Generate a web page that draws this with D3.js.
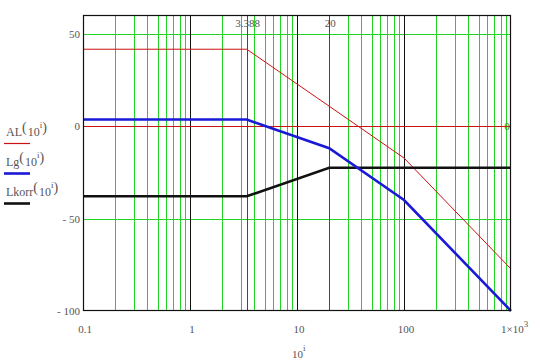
<!DOCTYPE html>
<html><head><meta charset="utf-8">
<script src="https://cdn.jsdelivr.net/npm/d3@7"></script>
<style>body{margin:0;background:#fff}svg{display:block}</style>
</head><body>
<svg id="c" width="541" height="362"></svg>
<script>
// ---- data ----
const freqs   = [0.1, 3.388, 20, 100, 1000];
const AL      = [41.5, 41.5, 10.7, -17.3, -77.3];
const Lg      = [3.5, 3.5, -12.0, -40.0, -100.0];
const Lkorr   = [-38.0, -38.0, -22.6, -22.6, -22.6];
const markersX = [3.388, 20];
const markersXLabels = ["3.388", "20"];
const markersY = [0];
const markersYLabels = ["0"];
const xTicks = [0.1, 1, 10, 100, 1000];
const xTickLabels = ["0.1", "1", "10", "100", "1×10"];
const yTicks = [50, 0, -50, -100];
const yTickLabels = ["50", "0", "- 50", "- 100"];
const yGrid = [50, 0, -50];
const seriesNames = ["AL", "Lg", "Lkorr"];

// ---- layout ----
const L = 83, R = 511, T = 15, B = 311;
const svg = d3.select("#c");
const x = d3.scaleLog().domain([0.1, 1000]).range([L, R]);
const y = d3.scaleLinear().domain([-100, 60]).range([B, T]);
const green = "#22d422", red = "#cc1111", blue = "#1a1ad6", black = "#111";
const font = "'Liberation Serif', 'DejaVu Serif', serif";
const txt = "#555";

// minor green grid (2..9 of each decade)
const minor = x.ticks().filter(v => !xTicks.some(t => Math.abs(Math.log10(v) - Math.log10(t)) < 1e-6));
const grid = svg.append("g").attr("shape-rendering", "crispEdges");
grid.append("g").selectAll("line").data(minor).join("line")
  .attr("x1", d => Math.round(x(d)) + 0.5).attr("x2", d => Math.round(x(d)) + 0.5)
  .attr("y1", T).attr("y2", B).attr("stroke", green).attr("stroke-width", 1);
grid.append("g").selectAll("line").data(yGrid).join("line")
  .attr("x1", L).attr("x2", R)
  .attr("y1", d => Math.round(y(d)) + 0.5).attr("y2", d => Math.round(y(d)) + 0.5)
  .attr("stroke", green).attr("stroke-width", 1);
// decade black lines
grid.append("g").selectAll("line").data(xTicks.slice(1, -1)).join("line")
  .attr("x1", d => Math.round(x(d)) + 0.5).attr("x2", d => Math.round(x(d)) + 0.5)
  .attr("y1", T).attr("y2", B).attr("stroke", black).attr("stroke-width", 1);

// markers
grid.append("g").selectAll("line").data(markersX).join("line")
  .attr("x1", d => Math.round(x(d)) + 0.5).attr("x2", d => Math.round(x(d)) + 0.5)
  .attr("y1", T).attr("y2", B).attr("stroke", red).attr("stroke-width", 1);
grid.append("g").selectAll("line").data(markersY).join("line")
  .attr("x1", L).attr("x2", R)
  .attr("y1", d => Math.round(y(d)) + 0.5).attr("y2", d => Math.round(y(d)) + 0.5)
  .attr("stroke", red).attr("stroke-width", 1);
svg.append("g").selectAll("text").data(markersX).join("text")
  .attr("x", d => x(d) + 1).attr("y", T + 12).attr("text-anchor", "middle")
  .attr("font-family", font).attr("font-size", 11).attr("fill", txt)
  .text((d, i) => markersXLabels[i]);
svg.append("g").selectAll("text").data(markersY).join("text")
  .attr("x", R - 4).attr("y", d => y(d) + 4).attr("text-anchor", "middle")
  .attr("font-family", font).attr("font-size", 11).attr("fill", "#3a7a3a")
  .text((d, i) => markersYLabels[i]);

// series
const line = d3.line().x(d => x(d[0])).y(d => y(d[1]));
const mk = arr => freqs.map((f, i) => [f, arr[i]]);
svg.append("path").attr("d", line(mk(AL))).attr("fill", "none").attr("stroke", red).attr("stroke-width", 1);
svg.append("path").attr("d", line(mk(Lkorr))).attr("fill", "none").attr("stroke", black).attr("stroke-width", 2.6);
svg.append("path").attr("d", line(mk(Lg))).attr("fill", "none").attr("stroke", blue).attr("stroke-width", 2.6);

// frame
svg.append("rect").attr("x", L + 0.5).attr("y", T + 0.5).attr("width", R - L - 1).attr("height", B - T - 1)
  .attr("fill", "none").attr("stroke", black).attr("stroke-width", 1.2);

// y tick labels
svg.append("g").selectAll("text").data(yTicks).join("text")
  .attr("x", L - 3).attr("y", d => y(d) + 4).attr("text-anchor", "end")
  .attr("font-family", font).attr("font-size", 11).attr("fill", txt)
  .text((d, i) => yTickLabels[i]);
// x tick labels
const xl = svg.append("g").selectAll("text").data(xTicks).join("text")
  .attr("x", (d, i) => i === xTicks.length - 1 ? x(d) - 10 : x(d) + 2)
  .attr("y", B + 22).attr("text-anchor", (d, i) => i === xTicks.length - 1 ? "start" : "middle")
  .attr("font-family", font).attr("font-size", 11).attr("fill", txt);
xl.append("tspan").text((d, i) => xTickLabels[i]);
xl.filter((d, i) => i === xTicks.length - 1).append("tspan")
  .attr("dy", -6).attr("font-size", 9).text("3");

// x axis title
const xt = svg.append("text").attr("x", 292).attr("y", 358)
  .attr("font-family", font).attr("font-size", 11).attr("fill", txt);
xt.append("tspan").text("10");
xt.append("tspan").attr("dy", -7).attr("font-size", 9).text("i");

// legend
const legColors = [red, blue, black];
const legY = [136, 166, 196];
const legWidths = [1.2, 2.6, 2.6];
seriesNames.forEach((n, i) => {
  const t = svg.append("text").attr("x", 6).attr("y", legY[i])
    .attr("font-family", font).attr("font-size", 12).attr("fill", txt);
  t.append("tspan").text(n);
  t.append("tspan").attr("dy", -4).attr("font-size", 14).text("(");
  t.append("tspan").attr("dx", 1).attr("dy", 4).attr("font-size", 12).text("10");
  t.append("tspan").attr("dy", -8).attr("font-size", 9).text("i");
  t.append("tspan").attr("dy", 4).attr("font-size", 14).text(")");
  svg.append("line").attr("x1", 4).attr("x2", 30)
    .attr("y1", legY[i] + 7.5).attr("y2", legY[i] + 7.5)
    .attr("stroke", legColors[i]).attr("stroke-width", legWidths[i]);
});
</script>
</body></html>
